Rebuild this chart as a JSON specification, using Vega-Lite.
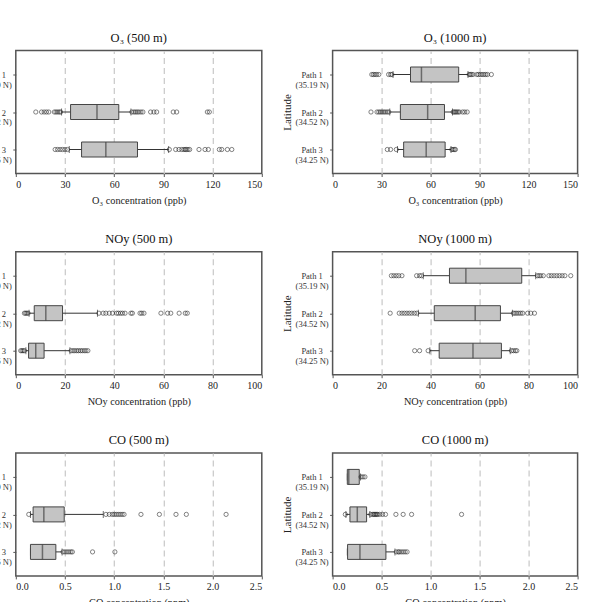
{
  "$schema": "https://vega.github.io/schema/vega-lite/v6.json",
  "padding": {"left": -37.2, "top": 30.5, "right": 0, "bottom": -8},
  "background": "white",
  "config": {
    "font": "Liberation Serif",
    "view": {"stroke": "#555", "strokeWidth": 1.5},
    "title": {"font": "Liberation Serif", "fontSize": 12.5, "fontWeight": "normal", "offset": 6, "color": "#111"},
    "axis": {"labelFont": "Liberation Serif", "titleFont": "Liberation Serif", "labelFontSize": 10, "titleFontSize": 10.3, "titleFontWeight": "normal", "labelColor": "#222", "titleColor": "#222", "tickColor": "#555", "tickSize": 3, "gridColor": "#c8c8c8", "gridDash": [6, 4], "gridWidth": 1.2},
    "axisY": {"grid": false, "domain": false, "labelFontSize": 8.5, "labelColor": "#333", "labelLineHeight": 10, "labelAlign": "center", "labelPadding": 18, "titlePadding": 3, "titleFontSize": 11, "labelExpr": "datum.label == 'P1' ? ['Path 1', '(35.19 N)'] : datum.label == 'P2' ? ['Path 2', '(34.52 N)'] : ['Path 3', '(34.25 N)']"},
    "axisX": {"grid": true, "domain": false, "labelPadding": 3, "titlePadding": 6}
  },
  "datasets": {
    "stats": [
      {"p": "O3_500", "path": "P2", "lo": 27.9, "q1": 33.4, "med": 49.5, "q3": 62.8, "hi": 70.2},
      {"p": "O3_500", "path": "P3", "lo": 32.6, "q1": 40.1, "med": 54.9, "q3": 74.2, "hi": 93.2},
      {"p": "X_1000", "path": "P1", "lo": 37.0, "q1": 47.7, "med": 54.4, "q3": 77.2, "hi": 82.9},
      {"p": "X_1000", "path": "P2", "lo": 35.0, "q1": 41.5, "med": 58.2, "q3": 68.5, "hi": 73.4},
      {"p": "X_1000", "path": "P3", "lo": 39.7, "q1": 43.5, "med": 57.3, "q3": 68.9, "hi": 72.5},
      {"p": "NOy_500", "path": "P2", "lo": 5.4, "q1": 7.5, "med": 12.2, "q3": 19.0, "hi": 33.2},
      {"p": "NOy_500", "path": "P3", "lo": 4.1, "q1": 5.2, "med": 8.1, "q3": 11.5, "hi": 22.0},
      {"p": "CO_500", "path": "P2", "lo": 0.149, "q1": 0.176, "med": 0.285, "q3": 0.492, "hi": 0.889},
      {"p": "CO_500", "path": "P3", "lo": 0.149, "q1": 0.149, "med": 0.271, "q3": 0.407, "hi": 0.47},
      {"p": "CO_1000", "path": "P1", "lo": 0.15, "q1": 0.15, "med": 0.165, "q3": 0.272, "hi": 0.285},
      {"p": "CO_1000", "path": "P2", "lo": 0.136, "q1": 0.177, "med": 0.252, "q3": 0.347, "hi": 0.38},
      {"p": "CO_1000", "path": "P3", "lo": 0.15, "q1": 0.153, "med": 0.279, "q3": 0.544, "hi": 0.636}
    ],
    "out": [
      {"p": "O3_500", "path": "P2", "v": 12.2}, {"p": "O3_500", "path": "P2", "v": 15.7}, {"p": "O3_500", "path": "P2", "v": 17.3}, {"p": "O3_500", "path": "P2", "v": 18.7}, {"p": "O3_500", "path": "P2", "v": 20.1}, {"p": "O3_500", "path": "P2", "v": 23.5}, {"p": "O3_500", "path": "P2", "v": 24.5}, {"p": "O3_500", "path": "P2", "v": 25.5}, {"p": "O3_500", "path": "P2", "v": 26.5}, {"p": "O3_500", "path": "P2", "v": 27.3},
      {"p": "O3_500", "path": "P2", "v": 70.8}, {"p": "O3_500", "path": "P2", "v": 72.0}, {"p": "O3_500", "path": "P2", "v": 73.0}, {"p": "O3_500", "path": "P2", "v": 74.0}, {"p": "O3_500", "path": "P2", "v": 75.0}, {"p": "O3_500", "path": "P2", "v": 76.3}, {"p": "O3_500", "path": "P2", "v": 77.5}, {"p": "O3_500", "path": "P2", "v": 82.2}, {"p": "O3_500", "path": "P2", "v": 84.2}, {"p": "O3_500", "path": "P2", "v": 85.9}, {"p": "O3_500", "path": "P2", "v": 96.0}, {"p": "O3_500", "path": "P2", "v": 98.1}, {"p": "O3_500", "path": "P2", "v": 116.8}, {"p": "O3_500", "path": "P2", "v": 118.0},
      {"p": "O3_500", "path": "P3", "v": 24.0}, {"p": "O3_500", "path": "P3", "v": 25.5}, {"p": "O3_500", "path": "P3", "v": 27.0}, {"p": "O3_500", "path": "P3", "v": 28.5}, {"p": "O3_500", "path": "P3", "v": 30.0}, {"p": "O3_500", "path": "P3", "v": 31.5},
      {"p": "O3_500", "path": "P3", "v": 93.6}, {"p": "O3_500", "path": "P3", "v": 97.5}, {"p": "O3_500", "path": "P3", "v": 99.5}, {"p": "O3_500", "path": "P3", "v": 101.2}, {"p": "O3_500", "path": "P3", "v": 102.5}, {"p": "O3_500", "path": "P3", "v": 103.3}, {"p": "O3_500", "path": "P3", "v": 104.0}, {"p": "O3_500", "path": "P3", "v": 105.0}, {"p": "O3_500", "path": "P3", "v": 106.0}, {"p": "O3_500", "path": "P3", "v": 111.7}, {"p": "O3_500", "path": "P3", "v": 115.4}, {"p": "O3_500", "path": "P3", "v": 117.4}, {"p": "O3_500", "path": "P3", "v": 124.1}, {"p": "O3_500", "path": "P3", "v": 125.6}, {"p": "O3_500", "path": "P3", "v": 129.0}, {"p": "O3_500", "path": "P3", "v": 131.7},
      {"p": "X_1000", "path": "P1", "v": 24.0}, {"p": "X_1000", "path": "P1", "v": 25.0}, {"p": "X_1000", "path": "P1", "v": 26.0}, {"p": "X_1000", "path": "P1", "v": 27.0}, {"p": "X_1000", "path": "P1", "v": 28.3}, {"p": "X_1000", "path": "P1", "v": 34.3}, {"p": "X_1000", "path": "P1", "v": 35.5}, {"p": "X_1000", "path": "P1", "v": 36.3},
      {"p": "X_1000", "path": "P1", "v": 83.6}, {"p": "X_1000", "path": "P1", "v": 84.3}, {"p": "X_1000", "path": "P1", "v": 85.0}, {"p": "X_1000", "path": "P1", "v": 86.0}, {"p": "X_1000", "path": "P1", "v": 88.3}, {"p": "X_1000", "path": "P1", "v": 89.3}, {"p": "X_1000", "path": "P1", "v": 90.4}, {"p": "X_1000", "path": "P1", "v": 91.5}, {"p": "X_1000", "path": "P1", "v": 92.6}, {"p": "X_1000", "path": "P1", "v": 93.7}, {"p": "X_1000", "path": "P1", "v": 94.8}, {"p": "X_1000", "path": "P1", "v": 97.2},
      {"p": "X_1000", "path": "P2", "v": 23.5}, {"p": "X_1000", "path": "P2", "v": 27.2}, {"p": "X_1000", "path": "P2", "v": 28.3}, {"p": "X_1000", "path": "P2", "v": 29.3}, {"p": "X_1000", "path": "P2", "v": 30.3}, {"p": "X_1000", "path": "P2", "v": 31.3}, {"p": "X_1000", "path": "P2", "v": 32.3}, {"p": "X_1000", "path": "P2", "v": 33.4}, {"p": "X_1000", "path": "P2", "v": 34.4},
      {"p": "X_1000", "path": "P2", "v": 73.8}, {"p": "X_1000", "path": "P2", "v": 74.5}, {"p": "X_1000", "path": "P2", "v": 75.2}, {"p": "X_1000", "path": "P2", "v": 76.0}, {"p": "X_1000", "path": "P2", "v": 76.8}, {"p": "X_1000", "path": "P2", "v": 77.6}, {"p": "X_1000", "path": "P2", "v": 79.6}, {"p": "X_1000", "path": "P2", "v": 80.9}, {"p": "X_1000", "path": "P2", "v": 82.4},
      {"p": "X_1000", "path": "P3", "v": 33.5}, {"p": "X_1000", "path": "P3", "v": 35.5}, {"p": "X_1000", "path": "P3", "v": 39.0}, {"p": "X_1000", "path": "P3", "v": 73.0}, {"p": "X_1000", "path": "P3", "v": 73.8}, {"p": "X_1000", "path": "P3", "v": 74.6}, {"p": "X_1000", "path": "P3", "v": 75.2},
      {"p": "NOy_500", "path": "P2", "v": 3.5}, {"p": "NOy_500", "path": "P2", "v": 4.0}, {"p": "NOy_500", "path": "P2", "v": 4.5}, {"p": "NOy_500", "path": "P2", "v": 5.0},
      {"p": "NOy_500", "path": "P2", "v": 33.8}, {"p": "NOy_500", "path": "P2", "v": 35.5}, {"p": "NOy_500", "path": "P2", "v": 36.6}, {"p": "NOy_500", "path": "P2", "v": 38.0}, {"p": "NOy_500", "path": "P2", "v": 39.3}, {"p": "NOy_500", "path": "P2", "v": 41.0}, {"p": "NOy_500", "path": "P2", "v": 41.7}, {"p": "NOy_500", "path": "P2", "v": 42.6}, {"p": "NOy_500", "path": "P2", "v": 43.4}, {"p": "NOy_500", "path": "P2", "v": 44.4}, {"p": "NOy_500", "path": "P2", "v": 46.8}, {"p": "NOy_500", "path": "P2", "v": 47.4}, {"p": "NOy_500", "path": "P2", "v": 50.5}, {"p": "NOy_500", "path": "P2", "v": 51.2}, {"p": "NOy_500", "path": "P2", "v": 52.1}, {"p": "NOy_500", "path": "P2", "v": 59.0}, {"p": "NOy_500", "path": "P2", "v": 61.7}, {"p": "NOy_500", "path": "P2", "v": 63.0}, {"p": "NOy_500", "path": "P2", "v": 66.4}, {"p": "NOy_500", "path": "P2", "v": 68.9}, {"p": "NOy_500", "path": "P2", "v": 69.7},
      {"p": "NOy_500", "path": "P3", "v": 2.0}, {"p": "NOy_500", "path": "P3", "v": 2.5}, {"p": "NOy_500", "path": "P3", "v": 3.0}, {"p": "NOy_500", "path": "P3", "v": 3.5},
      {"p": "NOy_500", "path": "P3", "v": 22.5}, {"p": "NOy_500", "path": "P3", "v": 23.3}, {"p": "NOy_500", "path": "P3", "v": 24.0}, {"p": "NOy_500", "path": "P3", "v": 24.8}, {"p": "NOy_500", "path": "P3", "v": 25.5}, {"p": "NOy_500", "path": "P3", "v": 26.3}, {"p": "NOy_500", "path": "P3", "v": 27.0}, {"p": "NOy_500", "path": "P3", "v": 27.8}, {"p": "NOy_500", "path": "P3", "v": 28.5}, {"p": "NOy_500", "path": "P3", "v": 29.3},
      {"p": "CO_500", "path": "P2", "v": 0.132}, {"p": "CO_500", "path": "P2", "v": 0.916}, {"p": "CO_500", "path": "P2", "v": 0.95}, {"p": "CO_500", "path": "P2", "v": 0.98}, {"p": "CO_500", "path": "P2", "v": 1.0}, {"p": "CO_500", "path": "P2", "v": 1.02}, {"p": "CO_500", "path": "P2", "v": 1.04}, {"p": "CO_500", "path": "P2", "v": 1.06}, {"p": "CO_500", "path": "P2", "v": 1.08}, {"p": "CO_500", "path": "P2", "v": 1.10}, {"p": "CO_500", "path": "P2", "v": 1.272}, {"p": "CO_500", "path": "P2", "v": 1.459}, {"p": "CO_500", "path": "P2", "v": 1.628}, {"p": "CO_500", "path": "P2", "v": 1.733}, {"p": "CO_500", "path": "P2", "v": 2.137},
      {"p": "CO_500", "path": "P3", "v": 0.48}, {"p": "CO_500", "path": "P3", "v": 0.5}, {"p": "CO_500", "path": "P3", "v": 0.52}, {"p": "CO_500", "path": "P3", "v": 0.54}, {"p": "CO_500", "path": "P3", "v": 0.56}, {"p": "CO_500", "path": "P3", "v": 0.575}, {"p": "CO_500", "path": "P3", "v": 0.78}, {"p": "CO_500", "path": "P3", "v": 1.007},
      {"p": "CO_1000", "path": "P1", "v": 0.29}, {"p": "CO_1000", "path": "P1", "v": 0.31}, {"p": "CO_1000", "path": "P1", "v": 0.33},
      {"p": "CO_1000", "path": "P2", "v": 0.13}, {"p": "CO_1000", "path": "P2", "v": 0.39}, {"p": "CO_1000", "path": "P2", "v": 0.41}, {"p": "CO_1000", "path": "P2", "v": 0.42}, {"p": "CO_1000", "path": "P2", "v": 0.43}, {"p": "CO_1000", "path": "P2", "v": 0.44}, {"p": "CO_1000", "path": "P2", "v": 0.45}, {"p": "CO_1000", "path": "P2", "v": 0.46}, {"p": "CO_1000", "path": "P2", "v": 0.48}, {"p": "CO_1000", "path": "P2", "v": 0.51}, {"p": "CO_1000", "path": "P2", "v": 0.54}, {"p": "CO_1000", "path": "P2", "v": 0.646}, {"p": "CO_1000", "path": "P2", "v": 0.72}, {"p": "CO_1000", "path": "P2", "v": 0.806}, {"p": "CO_1000", "path": "P2", "v": 1.316},
      {"p": "CO_1000", "path": "P3", "v": 0.65}, {"p": "CO_1000", "path": "P3", "v": 0.67}, {"p": "CO_1000", "path": "P3", "v": 0.68}, {"p": "CO_1000", "path": "P3", "v": 0.7}, {"p": "CO_1000", "path": "P3", "v": 0.72}, {"p": "CO_1000", "path": "P3", "v": 0.74}, {"p": "CO_1000", "path": "P3", "v": 0.76}
    ]
  },
  "spacing": 24.2,
  "vconcat": [
    {"spacing": 15.8, "hconcat": [
      {"width": 246, "height": 123, "title": "O₃ (500 m)",
       "encoding": {"y": {"field": "path", "type": "nominal", "scale": {"type": "point", "domain": ["P1", "P2", "P3"], "padding": 0.64}, "axis": {"title": "Latitude"}}},
       "layer": [
        {"data": {"name": "stats"}, "transform": [{"filter": "datum.p == 'O3_500'"}], "mark": {"type": "rule", "color": "#333", "strokeWidth": 1}, "encoding": {"x": {"field": "lo", "type": "quantitative", "scale": {"domain": [0, 150], "nice": false}, "axis": {"title": "O₃ concentration (ppb)", "values": [0, 30, 60, 90, 120, 150], "gridOpacity": {"condition": {"test": "datum.value == 0 || datum.value == 150", "value": 0}, "value": 1}}}, "x2": {"field": "hi"}}},
        {"data": {"name": "stats"}, "transform": [{"filter": "datum.p == 'O3_500'"}], "mark": {"type": "tick", "color": "#333", "size": 7, "thickness": 1}, "encoding": {"x": {"field": "lo", "type": "quantitative"}}},
        {"data": {"name": "stats"}, "transform": [{"filter": "datum.p == 'O3_500'"}], "mark": {"type": "tick", "color": "#333", "size": 7, "thickness": 1}, "encoding": {"x": {"field": "hi", "type": "quantitative"}}},
        {"data": {"name": "stats"}, "transform": [{"filter": "datum.p == 'O3_500'"}], "mark": {"type": "bar", "size": 15, "fill": "#c4c4c4", "stroke": "#444", "strokeWidth": 1}, "encoding": {"x": {"field": "q1", "type": "quantitative"}, "x2": {"field": "q3"}}},
        {"data": {"name": "stats"}, "transform": [{"filter": "datum.p == 'O3_500'"}], "mark": {"type": "tick", "color": "#444", "size": 15, "thickness": 1.5}, "encoding": {"x": {"field": "med", "type": "quantitative"}}},
        {"data": {"name": "out"}, "transform": [{"filter": "datum.p == 'O3_500'"}], "mark": {"type": "point", "shape": "circle", "filled": false, "size": 18, "stroke": "#222", "strokeWidth": 0.8}, "encoding": {"x": {"field": "v", "type": "quantitative"}}}
       ]},
      {"width": 245, "height": 123, "title": "O₃ (1000 m)",
       "encoding": {"y": {"field": "path", "type": "nominal", "scale": {"type": "point", "domain": ["P1", "P2", "P3"], "padding": 0.64}, "axis": {"title": "Latitude"}}},
       "layer": [
        {"data": {"name": "stats"}, "transform": [{"filter": "datum.p == 'X_1000'"}], "mark": {"type": "rule", "color": "#333", "strokeWidth": 1}, "encoding": {"x": {"field": "lo", "type": "quantitative", "scale": {"domain": [0, 150], "nice": false}, "axis": {"title": "O₃ concentration (ppb)", "values": [0, 30, 60, 90, 120, 150], "gridOpacity": {"condition": {"test": "datum.value == 0 || datum.value == 150", "value": 0}, "value": 1}}}, "x2": {"field": "hi"}}},
        {"data": {"name": "stats"}, "transform": [{"filter": "datum.p == 'X_1000'"}], "mark": {"type": "tick", "color": "#333", "size": 7, "thickness": 1}, "encoding": {"x": {"field": "lo", "type": "quantitative"}}},
        {"data": {"name": "stats"}, "transform": [{"filter": "datum.p == 'X_1000'"}], "mark": {"type": "tick", "color": "#333", "size": 7, "thickness": 1}, "encoding": {"x": {"field": "hi", "type": "quantitative"}}},
        {"data": {"name": "stats"}, "transform": [{"filter": "datum.p == 'X_1000'"}], "mark": {"type": "bar", "size": 15, "fill": "#c4c4c4", "stroke": "#444", "strokeWidth": 1}, "encoding": {"x": {"field": "q1", "type": "quantitative"}, "x2": {"field": "q3"}}},
        {"data": {"name": "stats"}, "transform": [{"filter": "datum.p == 'X_1000'"}], "mark": {"type": "tick", "color": "#444", "size": 15, "thickness": 1.5}, "encoding": {"x": {"field": "med", "type": "quantitative"}}},
        {"data": {"name": "out"}, "transform": [{"filter": "datum.p == 'X_1000'"}], "mark": {"type": "point", "shape": "circle", "filled": false, "size": 18, "stroke": "#222", "strokeWidth": 0.8}, "encoding": {"x": {"field": "v", "type": "quantitative"}}}
       ]}
    ]},
    {"spacing": 15.8, "hconcat": [
      {"width": 246, "height": 123, "title": "NOy (500 m)",
       "encoding": {"y": {"field": "path", "type": "nominal", "scale": {"type": "point", "domain": ["P1", "P2", "P3"], "padding": 0.64}, "axis": {"title": "Latitude"}}},
       "layer": [
        {"data": {"name": "stats"}, "transform": [{"filter": "datum.p == 'NOy_500'"}], "mark": {"type": "rule", "color": "#333", "strokeWidth": 1}, "encoding": {"x": {"field": "lo", "type": "quantitative", "scale": {"domain": [0, 100], "nice": false}, "axis": {"title": "NOy concentration (ppb)", "values": [0, 20, 40, 60, 80, 100], "gridOpacity": {"condition": {"test": "datum.value == 0 || datum.value == 100", "value": 0}, "value": 1}}}, "x2": {"field": "hi"}}},
        {"data": {"name": "stats"}, "transform": [{"filter": "datum.p == 'NOy_500'"}], "mark": {"type": "tick", "color": "#333", "size": 7, "thickness": 1}, "encoding": {"x": {"field": "lo", "type": "quantitative"}}},
        {"data": {"name": "stats"}, "transform": [{"filter": "datum.p == 'NOy_500'"}], "mark": {"type": "tick", "color": "#333", "size": 7, "thickness": 1}, "encoding": {"x": {"field": "hi", "type": "quantitative"}}},
        {"data": {"name": "stats"}, "transform": [{"filter": "datum.p == 'NOy_500'"}], "mark": {"type": "bar", "size": 15, "fill": "#c4c4c4", "stroke": "#444", "strokeWidth": 1}, "encoding": {"x": {"field": "q1", "type": "quantitative"}, "x2": {"field": "q3"}}},
        {"data": {"name": "stats"}, "transform": [{"filter": "datum.p == 'NOy_500'"}], "mark": {"type": "tick", "color": "#444", "size": 15, "thickness": 1.5}, "encoding": {"x": {"field": "med", "type": "quantitative"}}},
        {"data": {"name": "out"}, "transform": [{"filter": "datum.p == 'NOy_500'"}], "mark": {"type": "point", "shape": "circle", "filled": false, "size": 18, "stroke": "#222", "strokeWidth": 0.8}, "encoding": {"x": {"field": "v", "type": "quantitative"}}}
       ]},
      {"width": 245, "height": 123, "title": "NOy (1000 m)",
       "encoding": {"y": {"field": "path", "type": "nominal", "scale": {"type": "point", "domain": ["P1", "P2", "P3"], "padding": 0.64}, "axis": {"title": "Latitude"}}},
       "layer": [
        {"data": {"name": "stats"}, "transform": [{"filter": "datum.p == 'X_1000'"}], "mark": {"type": "rule", "color": "#333", "strokeWidth": 1}, "encoding": {"x": {"field": "lo", "type": "quantitative", "scale": {"domain": [0, 100], "nice": false}, "axis": {"title": "NOy concentration (ppb)", "values": [0, 20, 40, 60, 80, 100], "gridOpacity": {"condition": {"test": "datum.value == 0 || datum.value == 100", "value": 0}, "value": 1}}}, "x2": {"field": "hi"}}},
        {"data": {"name": "stats"}, "transform": [{"filter": "datum.p == 'X_1000'"}], "mark": {"type": "tick", "color": "#333", "size": 7, "thickness": 1}, "encoding": {"x": {"field": "lo", "type": "quantitative"}}},
        {"data": {"name": "stats"}, "transform": [{"filter": "datum.p == 'X_1000'"}], "mark": {"type": "tick", "color": "#333", "size": 7, "thickness": 1}, "encoding": {"x": {"field": "hi", "type": "quantitative"}}},
        {"data": {"name": "stats"}, "transform": [{"filter": "datum.p == 'X_1000'"}], "mark": {"type": "bar", "size": 15, "fill": "#c4c4c4", "stroke": "#444", "strokeWidth": 1}, "encoding": {"x": {"field": "q1", "type": "quantitative"}, "x2": {"field": "q3"}}},
        {"data": {"name": "stats"}, "transform": [{"filter": "datum.p == 'X_1000'"}], "mark": {"type": "tick", "color": "#444", "size": 15, "thickness": 1.5}, "encoding": {"x": {"field": "med", "type": "quantitative"}}},
        {"data": {"name": "out"}, "transform": [{"filter": "datum.p == 'X_1000'"}], "mark": {"type": "point", "shape": "circle", "filled": false, "size": 18, "stroke": "#222", "strokeWidth": 0.8}, "encoding": {"x": {"field": "v", "type": "quantitative"}}}
       ]}
    ]},
    {"spacing": 15.8, "hconcat": [
      {"width": 246, "height": 123, "title": "CO (500 m)",
       "encoding": {"y": {"field": "path", "type": "nominal", "scale": {"type": "point", "domain": ["P1", "P2", "P3"], "padding": 0.64}, "axis": {"title": "Latitude"}}},
       "layer": [
        {"data": {"name": "stats"}, "transform": [{"filter": "datum.p == 'CO_500'"}], "mark": {"type": "rule", "color": "#333", "strokeWidth": 1}, "encoding": {"x": {"field": "lo", "type": "quantitative", "scale": {"domain": [0, 2.5], "nice": false}, "axis": {"title": "CO concentration (ppm)", "values": [0, 0.5, 1, 1.5, 2, 2.5], "format": ".1f", "gridOpacity": {"condition": {"test": "datum.value == 0 || datum.value == 2.5", "value": 0}, "value": 1}}}, "x2": {"field": "hi"}}},
        {"data": {"name": "stats"}, "transform": [{"filter": "datum.p == 'CO_500'"}], "mark": {"type": "tick", "color": "#333", "size": 7, "thickness": 1}, "encoding": {"x": {"field": "lo", "type": "quantitative"}}},
        {"data": {"name": "stats"}, "transform": [{"filter": "datum.p == 'CO_500'"}], "mark": {"type": "tick", "color": "#333", "size": 7, "thickness": 1}, "encoding": {"x": {"field": "hi", "type": "quantitative"}}},
        {"data": {"name": "stats"}, "transform": [{"filter": "datum.p == 'CO_500'"}], "mark": {"type": "bar", "size": 15, "fill": "#c4c4c4", "stroke": "#444", "strokeWidth": 1}, "encoding": {"x": {"field": "q1", "type": "quantitative"}, "x2": {"field": "q3"}}},
        {"data": {"name": "stats"}, "transform": [{"filter": "datum.p == 'CO_500'"}], "mark": {"type": "tick", "color": "#444", "size": 15, "thickness": 1.5}, "encoding": {"x": {"field": "med", "type": "quantitative"}}},
        {"data": {"name": "out"}, "transform": [{"filter": "datum.p == 'CO_500'"}], "mark": {"type": "point", "shape": "circle", "filled": false, "size": 18, "stroke": "#222", "strokeWidth": 0.8}, "encoding": {"x": {"field": "v", "type": "quantitative"}}}
       ]},
      {"width": 245, "height": 123, "title": "CO (1000 m)",
       "encoding": {"y": {"field": "path", "type": "nominal", "scale": {"type": "point", "domain": ["P1", "P2", "P3"], "padding": 0.64}, "axis": {"title": "Latitude"}}},
       "layer": [
        {"data": {"name": "stats"}, "transform": [{"filter": "datum.p == 'CO_1000'"}], "mark": {"type": "rule", "color": "#333", "strokeWidth": 1}, "encoding": {"x": {"field": "lo", "type": "quantitative", "scale": {"domain": [0, 2.5], "nice": false}, "axis": {"title": "CO concentration (ppm)", "values": [0, 0.5, 1, 1.5, 2, 2.5], "format": ".1f", "gridOpacity": {"condition": {"test": "datum.value == 0 || datum.value == 2.5", "value": 0}, "value": 1}}}, "x2": {"field": "hi"}}},
        {"data": {"name": "stats"}, "transform": [{"filter": "datum.p == 'CO_1000'"}], "mark": {"type": "tick", "color": "#333", "size": 7, "thickness": 1}, "encoding": {"x": {"field": "lo", "type": "quantitative"}}},
        {"data": {"name": "stats"}, "transform": [{"filter": "datum.p == 'CO_1000'"}], "mark": {"type": "tick", "color": "#333", "size": 7, "thickness": 1}, "encoding": {"x": {"field": "hi", "type": "quantitative"}}},
        {"data": {"name": "stats"}, "transform": [{"filter": "datum.p == 'CO_1000'"}], "mark": {"type": "bar", "size": 15, "fill": "#c4c4c4", "stroke": "#444", "strokeWidth": 1}, "encoding": {"x": {"field": "q1", "type": "quantitative"}, "x2": {"field": "q3"}}},
        {"data": {"name": "stats"}, "transform": [{"filter": "datum.p == 'CO_1000'"}], "mark": {"type": "tick", "color": "#444", "size": 15, "thickness": 1.5}, "encoding": {"x": {"field": "med", "type": "quantitative"}}},
        {"data": {"name": "out"}, "transform": [{"filter": "datum.p == 'CO_1000'"}], "mark": {"type": "point", "shape": "circle", "filled": false, "size": 18, "stroke": "#222", "strokeWidth": 0.8}, "encoding": {"x": {"field": "v", "type": "quantitative"}}}
       ]}
    ]}
  ]
}
